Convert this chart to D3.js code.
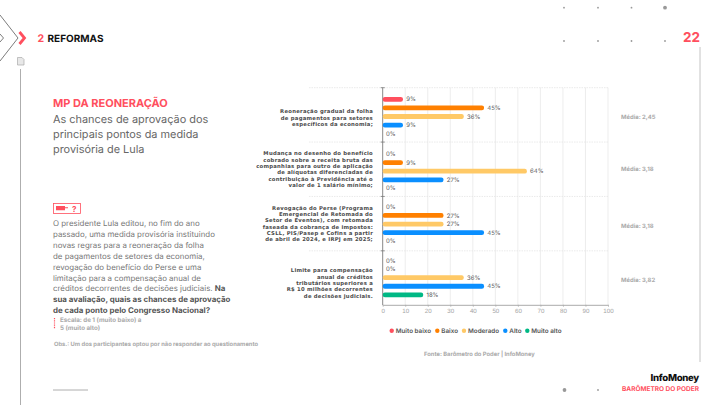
<!DOCTYPE html>
<html>
<head>
<meta charset="utf-8">
<script src="https://cdn.jsdelivr.net/npm/d3@7"></script>
<style>
  html, body { margin: 0; padding: 0; background: #fff; }
  svg { display: block; font-family: Inter, "Open Sans", sans-serif; text-rendering: geometricPrecision; }
</style>
</head>
<body>
<div id="chart"></div>
<script>
var categories = [
  ["Reoneração gradual da folha", "de pagamentos para setores", "específicos da economia;"],
  ["Mudança no desenho do benefício", "cobrado sobre a receita bruta das", "companhias para outro de aplicação", "de alíquotas diferenciadas de", "contribuição à Previdência até o", "valor de 1 salário mínimo;"],
  ["Revogação do Perse (Programa", "Emergencial de Retomada do", "Setor de Eventos), com retomada", "faseada da cobrança de impostos:", "CSLL, PIS/Pasep e Cofins a partir", "de abril de 2024, e IRPJ em 2025;"],
  ["Limite para compensação", "anual de créditos", "tributários superiores a", "R$ 10 milhões decorrentes", "de decisões judiciais."]
];
var seriesNames = ["Muito baixo", "Baixo", "Moderado", "Alto", "Muito alto"];
var seriesColors = ["#ff4f5e", "#ff8000", "#ffc966", "#0a8fff", "#00b884"];
var muitoBaixo = [9, 0, 0, 0];
var baixo = [45, 9, 27, 0];
var moderado = [36, 64, 27, 36];
var alto = [9, 27, 45, 45];
var muitoAlto = [0, 0, 0, 18];
var medias = ["Média: 2,45", "Média: 3,18", "Média: 3,18", "Média: 3,82"];
var xTicks = [0, 10, 20, 30, 40, 50, 60, 70, 80, 90, 100];
var seriesValues = [muitoBaixo, baixo, moderado, alto, muitoAlto];

var introLines = [
  "O presidente Lula editou, no fim do ano",
  "passado, uma medida provisória instituindo",
  "novas regras para a reoneração da folha",
  "de pagamentos de setores da economia,",
  "revogação do benefício do Perse e uma",
  "limitação para a compensação anual de"
];

var width = 720, height = 405;
var svg = d3.select("#chart").append("svg")
  .attr("width", width)
  .attr("height", height);

var x = d3.scaleLinear().domain([0, 100]).range([382.7, 608]);
var y0 = d3.scaleBand().domain(d3.range(categories.length)).range([87.7, 305.2]);
var y1 = d3.scaleBand().domain(d3.range(seriesNames.length)).range([5.7, 48.7]);

// the groups are not quite centred in their bands in the original
var barShift = [1.6, 1.9, 0.4, -0.4];
var labelShift = [3, 0, 0, 5];
var mediaShift = [2, -0.5, 2.4, 2];

// grid
svg.append("g").selectAll("line").data(xTicks.slice(1)).enter().append("line")
  .attr("x1", function(d) { return x(d); })
  .attr("x2", function(d) { return x(d); })
  .attr("y1", 87.7).attr("y2", 305.2)
  .attr("stroke", "#e8e8e8").attr("stroke-width", 0.8);

// dashed category separators
svg.append("g").selectAll("line").data(d3.range(categories.length)).enter().append("line")
  .attr("x1", 309).attr("x2", x(100))
  .attr("y1", function(d) { return y0(d); })
  .attr("y2", function(d) { return y0(d); })
  .attr("stroke", "#e4e4e4").attr("stroke-width", 0.8).attr("stroke-dasharray", "1.5,1");

// x axis
var xAxis = d3.axisBottom(x).tickValues(xTicks).tickSize(2).tickSizeOuter(0).tickPadding(1.5);
var gx = svg.append("g").attr("transform", "translate(0,304.8)").call(xAxis);
gx.select(".domain").attr("stroke", "#aaa").attr("stroke-width", 1);
gx.selectAll(".tick line").attr("stroke", "#aaa").attr("stroke-width", 0.7);
gx.selectAll("text").style("font-size", "6.2px").style("fill", "#a5a5a5");

svg.append("line").attr("x1", x(0)).attr("x2", x(0)).attr("y1", 87.7).attr("y2", 305.2)
  .attr("stroke", "#888").attr("stroke-width", 1);
svg.append("g").selectAll("line").data(d3.range(categories.length)).enter().append("line")
  .attr("x1", x(0) - 2).attr("x2", x(0) + 2)
  .attr("y1", function(d) { return y0(d); })
  .attr("y2", function(d) { return y0(d); })
  .attr("stroke", "#777").attr("stroke-width", 0.8);

// bars and labels
seriesValues.forEach(function(vals, s) {
  var g = svg.append("g");
  g.selectAll("rect").data(vals).enter().append("rect")
    .attr("x", x(0))
    .attr("y", function(d, i) { return y0(i) + y1(s) + y1.bandwidth() / 2 - 2.4 + barShift[i]; })
    .attr("width", function(d) { return x(d) - x(0); })
    .attr("height", 4.8)
    .attr("rx", 2.2)
    .attr("fill", seriesColors[s]);
  g.selectAll("text").data(vals).enter().append("text")
    .attr("x", function(d) { return x(d) + 3.2; })
    .attr("y", function(d, i) { return y0(i) + y1(s) + y1.bandwidth() / 2 + barShift[i]; })
    .attr("dy", ".35em")
    .style("font-size", "6px")
    .style("fill", "#555")
    .text(function(d) { return d + "%"; });
});

// category labels
categories.forEach(function(lines, i) {
  var cy = y0(i) + y0.bandwidth() / 2 + labelShift[i];
  svg.append("text")
    .attr("text-anchor", "end")
    .style("font-family", "'DejaVu Sans', sans-serif")
    .style("font-size", "5.3px")
    .style("font-weight", 700)
    .style("letter-spacing", "0.25px")
    .style("fill", "#4a4a4a")
    .selectAll("tspan").data(lines).enter().append("tspan")
    .attr("x", 373)
    .attr("y", function(d, j) { return cy + (j - (lines.length - 1) / 2) * 6.3 + 1.9; })
    .text(function(d) { return d; });
});

// media
svg.append("g").selectAll("text").data(medias).enter().append("text")
  .attr("x", 621)
  .attr("y", function(d, i) { return y0(i) + y0.bandwidth() / 2 + mediaShift[i] + 2; })
  .style("font-size", "5.9px").style("font-weight", 700).style("fill", "#aaa")
  .text(function(d) { return d; });

// legend
var legendX = [391.7, 437.3, 464, 505.3, 527.3];
var legend = svg.append("g").selectAll("g").data(seriesNames).enter().append("g")
  .attr("transform", function(d, i) { return "translate(" + legendX[i] + ",330.7)"; });
legend.append("circle").attr("r", 2.2).attr("fill", function(d, i) { return seriesColors[i]; });
legend.append("text").attr("x", 4).attr("dy", ".35em")
  .style("font-size", "6.3px").style("font-weight", 600).style("fill", "#555")
  .text(function(d) { return d; });

svg.append("text").attr("x", 424).attr("y", 355.8)
  .style("font-size", "5.8px").style("font-weight", 700).style("fill", "#aaa")
  .text("Fonte: Barômetro do Poder | InfoMoney");

// header decoration
svg.append("path").attr("d", "M0,15 L18,38 L0,61").attr("fill", "none").attr("stroke", "#444").attr("stroke-width", 0.7);
svg.append("path").attr("d", "M0,34 L3.5,38 L0,42").attr("fill", "none").attr("stroke", "#444").attr("stroke-width", 0.7);
svg.append("path").attr("d", "M19.5,32 L24.5,38 L19.5,44").attr("fill", "none").attr("stroke", "#ff4f5e").attr("stroke-width", 2.8);
svg.append("text").attr("x", 37.5).attr("y", 42).style("font-size", "10.5px").style("font-weight", 700)
  .style("fill", "#ff4f5e").text("2");
svg.append("text").attr("x", 47.5).attr("y", 42).style("font-size", "10px").style("font-weight", 700)
  .style("fill", "#111").text("REFORMAS");
svg.append("text").attr("x", 700).attr("y", 42).attr("text-anchor", "end").style("font-size", "13.5px").style("font-weight", 700)
  .style("fill", "#ff4f5e").text("22");

// doc icon and side rules
svg.append("path").attr("d", "M17.5,57.5 h4.5 l2,2 v5.5 h-6.5 z").attr("fill", "#e8e8e8").attr("stroke", "#aaa").attr("stroke-width", 0.7);
svg.append("line").attr("x1", 20.5).attr("x2", 20.5).attr("y1", 69).attr("y2", 405).attr("stroke", "#999").attr("stroke-width", 0.8);
svg.append("line").attr("x1", 700).attr("x2", 700).attr("y1", 47).attr("y2", 362).attr("stroke", "#c4c4c4").attr("stroke-width", 1);
svg.append("line").attr("x1", 53).attr("x2", 88).attr("y1", 390).attr("y2", 390).attr("stroke", "#999").attr("stroke-width", 0.8);

// dots
var dotX = [564, 598, 631.5, 665];
svg.append("g").selectAll("circle").data(dotX).enter().append("circle")
  .attr("cx", function(d) { return d; }).attr("cy", 7.7)
  .attr("r", function(d, i) { return i === 3 ? 1.9 : 0.9; }).attr("fill", "#999");
svg.append("g").selectAll("circle").data(dotX).enter().append("circle")
  .attr("cx", function(d) { return d; }).attr("cy", 41)
  .attr("r", 0.9).attr("fill", "#999");
svg.append("circle").attr("cx", 564.5).attr("cy", 390).attr("r", 1.9).attr("fill", "#999");
svg.append("circle").attr("cx", 598).attr("cy", 390).attr("r", 0.9).attr("fill", "#999");

// left column
svg.append("text").attr("x", 53).attr("y", 107).style("font-size", "11px").style("font-weight", 700)
  .style("fill", "#ff4f5e").text("MP DA REONERAÇÃO");
var subLines = ["As chances de aprovação dos", "principais pontos da medida", "provisória de Lula"];
svg.append("g").selectAll("text").data(subLines).enter().append("text")
  .attr("x", 53).attr("y", function(d, i) { return 122.5 + i * 15; })
  .style("font-size", "10.9px").style("fill", "#666").text(function(d) { return d; });

svg.append("rect").attr("x", 53.5).attr("y", 203.5).attr("width", 27).attr("height", 10)
  .attr("fill", "none").attr("stroke", "#ff4f5e").attr("stroke-width", 0.8);
svg.append("path").attr("d", "M56,206 h9 v1.2 h3 v1 h-3 v2 h-9 z").attr("fill", "#ff4f5e");
svg.append("text").attr("x", 72).attr("y", 212).style("font-size", "8px").style("font-weight", 700)
  .style("fill", "#ff4f5e").text("?");

svg.append("g").selectAll("text").data(introLines).enter().append("text")
  .attr("x", 53).attr("y", function(d, i) { return 226 + i * 10.9; })
  .style("font-size", "7.9px").style("fill", "#777").text(function(d) { return d; });
var line7 = svg.append("text").attr("x", 53).attr("y", 291.4).style("font-size", "7.9px").style("fill", "#777");
line7.append("tspan").text("créditos decorrentes de decisões judiciais. ");
line7.append("tspan").style("font-weight", 700).style("fill", "#555").text("Na");
svg.append("text").attr("x", 53).attr("y", 302.3).style("font-size", "7.9px").style("font-weight", 700).style("fill", "#555")
  .text("sua avaliação, quais as chances de aprovação");
svg.append("text").attr("x", 53).attr("y", 313.2).style("font-size", "7.9px").style("font-weight", 700).style("fill", "#555")
  .text("de cada ponto pelo Congresso Nacional?");

svg.append("line").attr("x1", 54.5).attr("x2", 54.5).attr("y1", 318).attr("y2", 329)
  .attr("stroke", "#ff4f5e").attr("stroke-width", 1.2).attr("stroke-dasharray", "1,0.8");
svg.append("text").attr("x", 60).attr("y", 322).style("font-size", "6.2px").style("font-weight", 700).style("fill", "#aaa")
  .text("Escala: de 1 (muito baixo) a");
svg.append("text").attr("x", 60).attr("y", 329.7).style("font-size", "6.2px").style("font-weight", 700).style("fill", "#aaa")
  .text("5 (muito alto)");
svg.append("text").attr("x", 54).attr("y", 345.5).style("font-size", "5.8px").style("font-weight", 700).style("fill", "#aaa")
  .text("Obs.: Um dos participantes optou por não responder ao questionamento");

// logo
svg.append("text").attr("x", 699).attr("y", 381).attr("text-anchor", "end").style("font-size", "9.6px").style("font-weight", 800)
  .style("fill", "#111").style("letter-spacing", "-0.3px").text("InfoMoney");
svg.append("text").attr("x", 699).attr("y", 391).attr("text-anchor", "end").style("font-size", "6.5px").style("font-weight", 700)
  .style("fill", "#ff4f5e").text("BARÔMETRO DO PODER");
</script>
</body>
</html>
